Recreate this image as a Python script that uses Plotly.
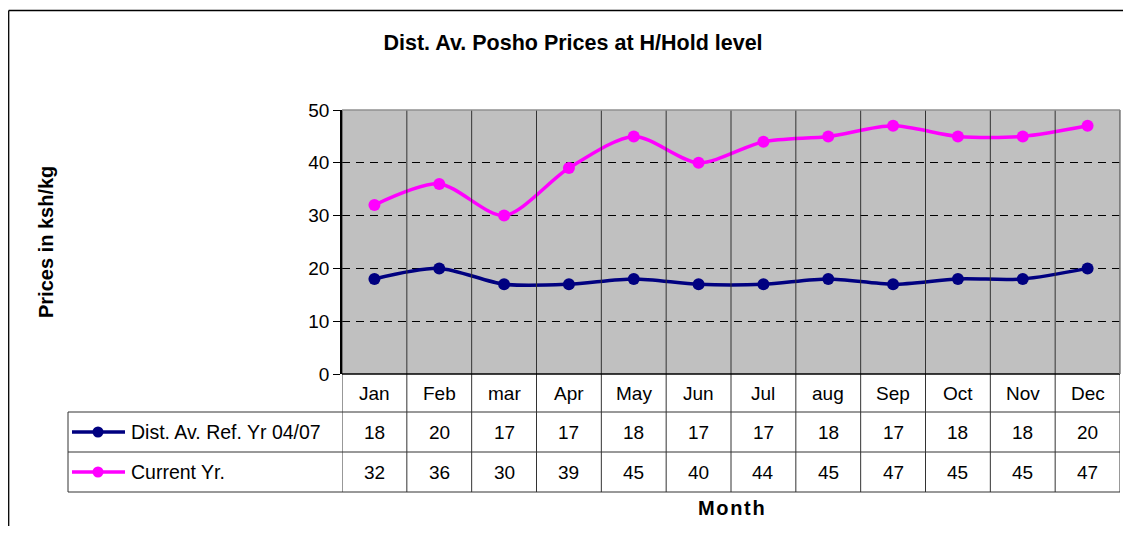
import plotly.graph_objects as go

months = ["Jan", "Feb", "mar", "Apr", "May", "Jun", "Jul", "aug", "Sep", "Oct", "Nov", "Dec"]
ref_yr = [18, 20, 17, 17, 18, 17, 17, 18, 17, 18, 18, 20]
current_yr = [32, 36, 30, 39, 45, 40, 44, 45, 47, 45, 45, 47]

series = [
    ("Dist. Av. Ref. Yr 04/07", ref_yr, "#000080"),
    ("Current Yr.", current_yr, "#FF00FF"),
]

FONT = "Liberation Sans, Arial, sans-serif"
idx = list(range(len(months)))

# page body has an 8px margin, so the figure is drawn smaller and shifted;
# kept small enough that the page never overflows the window
OFF = 8
W, H = 1131 - 2 * OFF, 518
# plot area in reference pixels
L, R, T, B = 342, 1120, 110, 374


def px(x):
    return (x - L) / (R - L)


def py(y):
    return (B - y) / (B - T)


fig = go.Figure()
for name, vals, col in series:
    fig.add_trace(go.Scatter(x=idx, y=vals, name=name, mode="lines+markers",
                             line=dict(color=col, width=3.5, shape="spline", smoothing=0.8),
                             marker=dict(color=col, size=12), showlegend=False))

shapes = []
line_col = "#333333"
# vertical category separators inside plot and through the table
for i in range(len(months) + 1):
    shapes.append(dict(type="line", xref="x", yref="paper", x0=i - 0.5, x1=i - 0.5,
                       y0=py(492), y1=1, line=dict(color=line_col, width=1)))
# table horizontal lines
shapes.append(dict(type="line", xref="paper", yref="paper", x0=0, x1=1, y0=0, y1=0,
                   line=dict(color="#000000", width=1.5)))
for yy in (412, 452, 492):
    shapes.append(dict(type="line", xref="paper", yref="paper", x0=px(68), x1=1,
                       y0=py(yy), y1=py(yy), line=dict(color=line_col, width=1)))
# legend box left edge
shapes.append(dict(type="line", xref="paper", yref="paper", x0=px(68), x1=px(68),
                   y0=py(412), y1=py(492), line=dict(color=line_col, width=1)))
# plot frame top/right in grey
shapes.append(dict(type="line", xref="paper", yref="paper", x0=0, x1=1, y0=1, y1=1,
                   line=dict(color="#909090", width=1.5)))
shapes.append(dict(type="line", xref="paper", yref="paper", x0=1, x1=1, y0=0, y1=1,
                   line=dict(color="#808080", width=1.5)))
# outer chart border (only top and left are inside the picture)
shapes.append(dict(type="line", xref="paper", yref="paper", x0=px(8.7), x1=px(W + OFF),
                   y0=py(10.5), y1=py(10.5), line=dict(color="#000000", width=1.3)))
shapes.append(dict(type="line", xref="paper", yref="paper", x0=px(8.7), x1=px(8.7),
                   y0=py(10.5), y1=py(H + OFF), line=dict(color="#000000", width=1.3)))

annotations = []
for i, m in enumerate(months):
    annotations.append(dict(x=i, y=py(393), xref="x", yref="paper", text=m, showarrow=False,
                            xanchor="center", yanchor="middle",
                            font=dict(size=19, color="#000000")))
for row, (name, vals, col) in enumerate(series):
    cy = 432 + 40 * row
    for i, v in enumerate(vals):
        annotations.append(dict(x=i, y=py(cy), xref="x", yref="paper", text=str(v),
                                showarrow=False, xanchor="center", yanchor="middle",
                                font=dict(size=19, color="#000000")))
    annotations.append(dict(x=px(129), y=py(cy), xref="paper", yref="paper", text=name,
                            xanchor="left", yanchor="middle", showarrow=False,
                            font=dict(size=19.5, color="#000000")))
    shapes.append(dict(type="line", xref="paper", yref="paper", x0=px(72), x1=px(125),
                       y0=py(cy), y1=py(cy), line=dict(color=col, width=3.5)))
    shapes.append(dict(type="circle", xref="paper", yref="paper", xsizemode="pixel",
                       ysizemode="pixel", xanchor=px(98), yanchor=py(cy),
                       x0=-5.5, x1=5.5, y0=-5.5, y1=5.5, fillcolor=col,
                       line=dict(color=col, width=0)))

annotations.append(dict(x=px(46), y=py(242), xref="paper", yref="paper",
                        text="<b>Prices in ksh/kg</b>", textangle=-90, showarrow=False,
                        xanchor="center", yanchor="middle",
                        font=dict(size=20, color="#000000")))
annotations.append(dict(x=px(731), y=py(508), xref="paper", yref="paper",
                        text="<b>M&#8202;o&#8202;n&#8202;t&#8202;h</b>",
                        xanchor="center", yanchor="middle", showarrow=False,
                        font=dict(size=20, color="#000000")))

fig.update_layout(
    width=W, height=H,
    margin=dict(l=L - OFF, r=W - (R - OFF), t=T - OFF, b=H - (B - OFF)),
    paper_bgcolor="white", plot_bgcolor="#C0C0C0",
    font=dict(family=FONT, color="#000000"),
    title=dict(text="<b>Dist. Av. Posho Prices at H/Hold level</b>", x=(573 - OFF) / W,
               xref="container", y=1 - (42 - OFF) / H, yref="container",
               xanchor="center", yanchor="middle",
               font=dict(size=21.5, color="#000000")),
    xaxis=dict(range=[-0.5, len(months) - 0.5], showticklabels=False, showgrid=False,
               zeroline=False, ticks=""),
    yaxis=dict(range=[0, 50], dtick=10, showgrid=True, gridcolor="#000000", griddash="8px,6px",
               gridwidth=1, zeroline=False, ticks="outside", ticklen=7, tickcolor="#000000",
               showline=True, linecolor="#000000", linewidth=1.5,
               tickfont=dict(size=19, color="#000000")),
    shapes=shapes, annotations=annotations,
)

fig.write_html("out.html")
